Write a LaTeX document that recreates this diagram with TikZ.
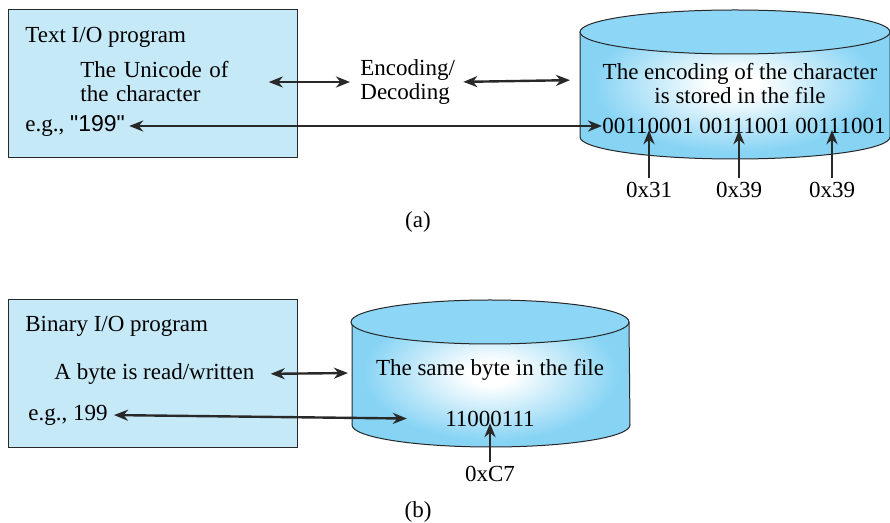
\documentclass[tikz,border=0pt]{standalone}
\usepackage{fontspec}
\setmainfont{Liberation Serif}
\newfontfamily\quotefont{Liberation Sans}
\usetikzlibrary{arrows.meta,positioning}
\definecolor{boxblue}{RGB}{198,233,248}
\definecolor{cylblue}{RGB}{134,211,244}
\definecolor{capblue}{RGB}{141,214,246}
\definecolor{edge}{RGB}{40,40,40}
\pgfdeclareradialshading{cylglow}{\pgfpoint{0bp}{0bp}}{color(0bp)=(white); color(4bp)=(white); color(23bp)=(cylblue); color(50bp)=(cylblue)}
\begin{document}
\begin{tikzpicture}[x=0.5pt,y=-0.5pt,
  txt/.style={inner sep=0pt, font=\fontsize{11.5}{12}\selectfont, align=center},
  prog/.style={draw=edge, line width=0.5pt, fill=boxblue},
  io/.style={{Stealth[length=7pt,width=5.5pt,inset=2.2pt]}-{Stealth[length=7pt,width=5.5pt,inset=2.2pt]}, line width=1.2pt, draw=edge},
  up/.style={-{Stealth[length=7pt,width=5.5pt,inset=2.2pt]}, line width=1.2pt, draw=edge}]
\useasboundingbox (0,0) rectangle (890,523);

% (a) text I/O
\draw[prog] (8,10) rectangle (297,158);
\node[txt, anchor=west] (tprog) at (25,37) {Text I/O program};
\node[txt, anchor=west, align=left, text width=94pt] (uni) at (80,82) {The Unicode of\\the character};
\node[txt, anchor=west, align=left] (codec) at (360,82) {Encoding/\\Decoding};
\node[txt, anchor=west] (egA) at (25,126) {e.g., {\quotefont "199"}};

\shade[shading=cylglow] (580,32) -- (580,137) arc[start angle=180, end angle=360, x radius=77.5pt, y radius=11pt] -- (890,32) arc[start angle=0, end angle=180, x radius=77.5pt, y radius=11pt] -- cycle;
\draw[edge, line width=0.5pt] (580,32) -- (580,137) arc[start angle=180, end angle=360, x radius=77.5pt, y radius=11pt] -- (890,32);
\draw[edge, line width=0.5pt, fill=capblue] (735,32) ellipse [x radius=77.5pt, y radius=11pt];
\coordinate (cylA) at (580,80);

\node[txt] (encA) at (740,84) {The encoding of the character\\is stored in the file};
\node[txt] (bits) at (744,126) {00110001 00111001 00111001};
\node[txt, inner sep=2pt] (h1) at (649,190) {0x31};
\node[txt, inner sep=2pt] (h2) at (739,190) {0x39};
\node[txt, inner sep=2pt] (h3) at (832,190) {0x39};

\draw[io, shorten >=5pt] (uni.east) -- (codec.west);
\draw[io, shorten <=4pt, shorten >=5pt] (codec.east) -- (cylA);
\draw[io, shorten <=2pt] (egA.east) -- (bits.west);
\draw[up, shorten >=-2pt] (h1.north) -- (h1.north |- bits.south);
\draw[up, shorten >=-2pt] (h2.north) -- (h2.north |- bits.south);
\draw[up, shorten >=-2pt] (h3.north) -- (h3.north |- bits.south);
\node[txt] (capA) at (418,222) {(a)};

% (b) binary I/O
\draw[prog] (8,300) rectangle (297,448);
\node[txt, anchor=west] (bprog) at (25,326) {Binary I/O program};
\node[txt, anchor=west] (rw) at (54,374) {A byte is read/written};
\node[txt, anchor=west] (egB) at (28,415) {e.g., 199};

\shade[shading=cylglow] (352,322) -- (352,425) arc[start angle=180, end angle=360, x radius=69.5pt, y radius=11pt] -- (629,322) arc[start angle=0, end angle=180, x radius=69.5pt, y radius=11pt] -- cycle;
\draw[edge, line width=0.5pt] (352,322) -- (352,425) arc[start angle=180, end angle=360, x radius=69.5pt, y radius=11pt] -- (629,322);
\draw[edge, line width=0.5pt, fill=capblue] (490,322) ellipse [x radius=69.5pt, y radius=11pt];
\coordinate (cylB) at (352,373);

\node[txt] (sameB) at (490,370) {The same byte in the file};
\node[txt] (byte) at (490,419) {11000111};
\node[txt, inner sep=2pt] (hB) at (490,474) {0xC7};

\draw[io, shorten <=8pt, shorten >=2pt] (rw.east) -- (cylB);
\draw[io, shorten <=3pt, shorten >=19pt] (egB.east) -- (byte.west);
\draw[up, shorten >=-2pt] (hB.north) -- (byte.south);
\node[txt] (capB) at (418,512) {(b)};
\end{tikzpicture}
\end{document}
